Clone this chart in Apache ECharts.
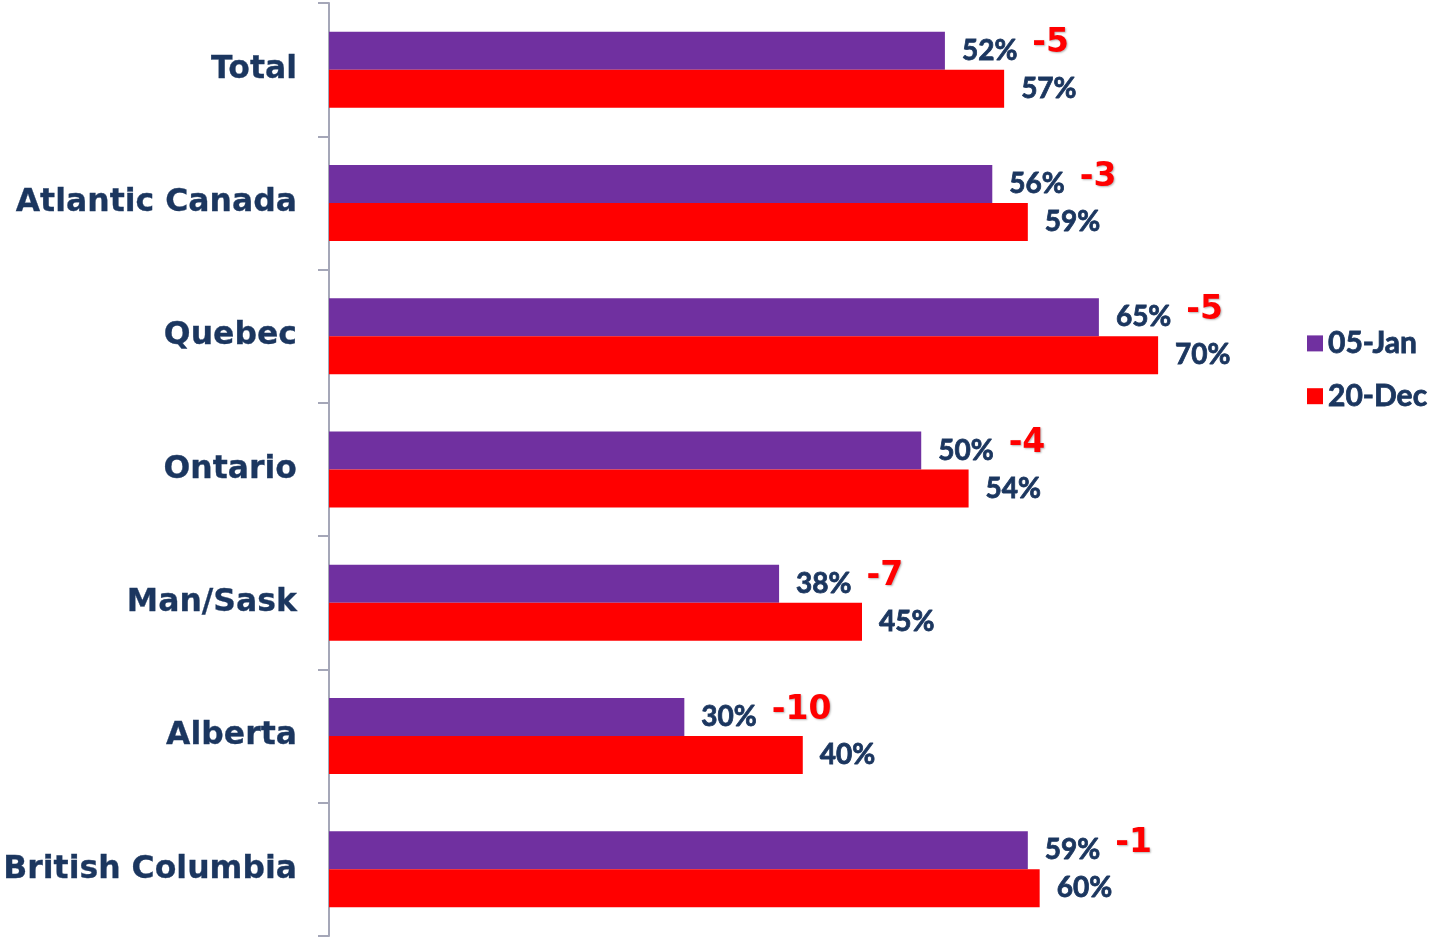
<!DOCTYPE html>
<html>
<head>
<meta charset="utf-8">
<title>Regional comparison</title>
<script src="https://cdn.jsdelivr.net/npm/echarts@6/dist/echarts.min.js"></script>
<style>
  html, body { margin: 0; padding: 0; background: #ffffff; }
  #chart { width: 1436px; height: 937px; }
</style>
</head>
<body>
<div id="chart"></div>
<script>
// Regions, top to bottom
const regions = ['Total', 'Atlantic Canada', 'Quebec', 'Ontario', 'Man/Sask', 'Alberta', 'British Columbia'];
// Share (%) by survey wave
const jan05 = [52, 56, 65, 50, 38, 30, 59];
const dec20 = [57, 59, 70, 54, 45, 40, 60];
const seriesNames = ['05-Jan', '20-Dec'];

const NAVY = '#1B365F';
const PURPLE = '#7030A0';
const RED = '#FF0000';

// Change between waves, shown next to the 05-Jan value
const change = jan05.map((v, i) => v - dec20[i]);

// Heavy label text: a thin outline in the fill colour thickens the strokes
const valueText = {
  fontFamily: 'Lato',
  fontWeight: 'bold',
  fontSize: 28,
  color: NAVY,
  textBorderColor: NAVY,
  textBorderWidth: 0.8
};

const chart = echarts.init(document.getElementById('chart'), null, { renderer: 'canvas' });

chart.setOption({
  animation: false,
  backgroundColor: '#ffffff',
  grid: {
    left: 329, right: 41, top: 3, bottom: 1,
    containLabel: false,
    outerBoundsMode: 'none'
  },
  legend: {
    orient: 'vertical',
    left: 1302,
    top: 323,
    icon: 'rect',
    itemWidth: 16,
    itemHeight: 16,
    itemGap: 22,
    itemTextGap: 9,
    textStyle: {
      fontFamily: 'Lato',
      fontWeight: 'bold',
      fontSize: 30,
      color: NAVY,
      textBorderColor: NAVY,
      textBorderWidth: 0.8
    },
    data: seriesNames
  },
  xAxis: {
    type: 'value',
    min: 0,
    max: 90,
    show: false,
    splitLine: { show: false }
  },
  yAxis: {
    type: 'category',
    data: regions,
    inverse: true,
    axisLine: { show: true, lineStyle: { color: '#A5A7B8', width: 2 } },
    axisTick: { show: true, length: 11, lineStyle: { color: '#A5A7B8', width: 2 } },
    axisLabel: {
      margin: 32,
      fontFamily: 'DejaVu Sans',
      fontWeight: 'bold',
      fontSize: 31.5,
      color: NAVY,
      textBorderColor: NAVY,
      textBorderWidth: 0.3
    }
  },
  series: [
    {
      name: seriesNames[0],
      type: 'bar',
      data: jan05,
      barWidth: 38,
      barGap: '0%',
      itemStyle: { color: PURPLE },
      label: {
        show: true,
        position: 'right',
        distance: 17,
        formatter: (p) => '{v|' + p.value + '%}{d|' + change[p.dataIndex] + '}',
        rich: {
          v: valueText,
          d: {
            fontFamily: 'DejaVu Sans',
            fontWeight: 'bold',
            fontSize: 33,
            color: RED,
            padding: [0, 0, 14, 15],
            textShadowColor: 'rgba(0,0,0,0.3)',
            textShadowBlur: 2,
            textShadowOffsetX: 1,
            textShadowOffsetY: 1
          }
        }
      }
    },
    {
      name: seriesNames[1],
      type: 'bar',
      data: dec20,
      barWidth: 38,
      itemStyle: { color: RED },
      label: Object.assign({
        show: true,
        position: 'right',
        distance: 17,
        formatter: '{c}%'
      }, valueText)
    }
  ]
});
</script>
</body>
</html>
